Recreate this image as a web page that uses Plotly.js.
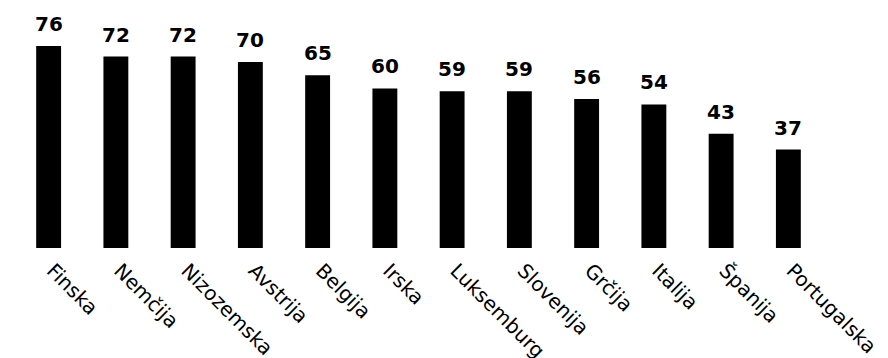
<!DOCTYPE html>
<html><head><meta charset="utf-8">
<script src="https://cdn.plot.ly/plotly-3.0.1.min.js"></script>
<style>body{margin:0;background:#fff}</style>
</head><body><div id="chart" style="width:888px;height:358px"></div>
<script>
var countries = ["Finska","Nemčija","Nizozemska","Avstrija","Belgija","Irska","Luksemburg","Slovenija","Grčija","Italija","Španija","Portugalska"];
var values = [76,72,72,70,65,60,59,59,56,54,43,37];

var trace = {
  type: "bar",
  x: countries,
  y: values,
  marker: {color: "#000"},
  width: 0.37,
  hoverinfo: "none"
};
var annotations = countries.map(function(c, i) {
  return {x: c, y: values[i], text: String(values[i]), showarrow: false,
    yanchor: "bottom", yshift: 8,
    font: {family: "DejaVu Sans", size: 20, color: "#000", weight: "bold"}};
});
var layout = {
  width: 888, height: 358,
  margin: {l: 15, r: 66, t: 22, b: 110},
  paper_bgcolor: "#fff", plot_bgcolor: "#fff",
  showlegend: false,
  annotations: annotations,
  xaxis: {tickangle: 45, showgrid: false, showline: false, ticks: "",
    ticklabelstandoff: 6, ticklabelshift: 4,
    tickfont: {family: "DejaVu Sans", size: 20, color: "#000"}, automargin: false},
  yaxis: {range: [0, 85], visible: false, showgrid: false, zeroline: false}
};
Plotly.newPlot("chart", [trace], layout, {staticPlot: true});
</script></body></html>
